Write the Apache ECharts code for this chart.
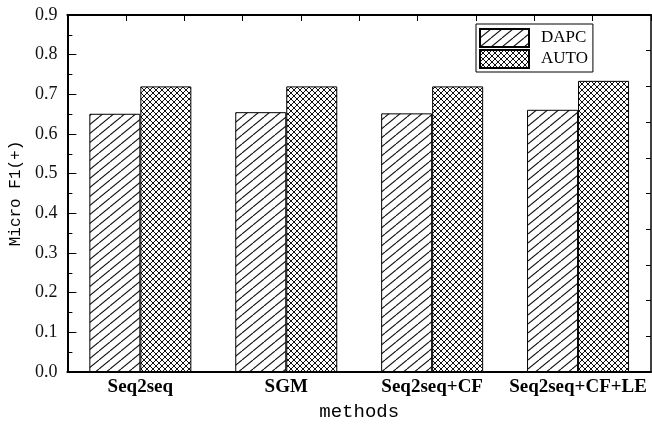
<!DOCTYPE html>
<html>
<head>
<meta charset="utf-8">
<script src="https://cdn.jsdelivr.net/npm/echarts@6/dist/echarts.min.js"></script>
<style>html,body{margin:0;padding:0;background:#fff}#c{width:652px;height:426px}</style>
</head>
<body>
<div id="c"></div>
<script>
const categories = ['Seq2seq', 'SGM', 'Seq2seq+CF', 'Seq2seq+CF+LE'];
const dapcValues = [0.651, 0.655, 0.652, 0.661];
const autoValues = [0.720, 0.720, 0.720, 0.734];
const yTicks = [0.0, 0.1, 0.2, 0.3, 0.4, 0.5, 0.6, 0.7, 0.8, 0.9];
const seriesNames = ['DAPC', 'AUTO'];

function hatchPattern(w, h) {
  const c = document.createElement('canvas');
  c.width = w; c.height = h;
  const g = c.getContext('2d');
  g.fillStyle = '#fff'; g.fillRect(0, 0, w, h);
  g.strokeStyle = '#111'; g.lineWidth = 1.1;
  for (let k = -1; k <= 1; k++) {
    g.beginPath(); g.moveTo(k * w, h); g.lineTo(k * w + w, 0); g.stroke();
  }
  return c;
}
function crossPattern(w, h) {
  const c = document.createElement('canvas');
  c.width = w; c.height = h;
  const g = c.getContext('2d');
  g.fillStyle = '#fff'; g.fillRect(0, 0, w, h);
  g.strokeStyle = '#111'; g.lineWidth = 1;
  for (let k = -1; k <= 1; k++) {
    g.beginPath(); g.moveTo(k * w, h); g.lineTo(k * w + w, 0); g.stroke();
    g.beginPath(); g.moveTo(k * w, 0); g.lineTo(k * w + w, h); g.stroke();
  }
  return c;
}

const chart = echarts.init(document.getElementById('c'), null, {renderer: 'canvas'});
const yMin = yTicks[0], yMax = yTicks[yTicks.length - 1];
chart.setOption({
  animation: false,
  backgroundColor: '#fff',
  grid: {left: 67, right: 1, top: 15, bottom: 53},
  legend: {
    orient: 'vertical', left: 476, top: 24,
    itemWidth: 49, itemHeight: 18, itemGap: 1, icon: 'rect',
    borderColor: '#000', borderWidth: 1, padding: [4, 5, 3, 3],
    backgroundColor: '#fff', selectedMode: false,
    textStyle: {fontFamily: 'Liberation Serif', fontSize: 17, color: '#000', padding: [0, 0, 0, 7]},
    data: seriesNames
  },
  xAxis: [{
    type: 'category', data: categories, position: 'bottom',
    axisLine: {show: true, onZero: false, lineStyle: {color: '#000', width: 2}},
    axisTick: {show: false},
    axisLabel: {interval: 0, hideOverlap: false, fontFamily: 'Liberation Serif', fontWeight: 'bold', fontSize: 19, color: '#000', margin: 6},
    name: 'methods', nameLocation: 'middle', nameGap: 30,
    nameTextStyle: {fontFamily: 'Liberation Mono', fontSize: 19, color: '#000'}
  }, {
    type: 'value', position: 'top', min: 0, max: 10, interval: 1,
    axisLine: {show: true, onZero: false, lineStyle: {color: '#000', width: 2}},
    axisTick: {show: true, inside: true, length: 6, lineStyle: {color: '#000', width: 1}},
    axisLabel: {show: false}, splitLine: {show: false}
  }],
  yAxis: [{
    type: 'value', min: yMin, max: yMax, interval: 0.1, position: 'left',
    axisLine: {show: true, onZero: false, lineStyle: {color: '#000', width: 2}},
    axisTick: {show: true, inside: true, length: 9, lineStyle: {color: '#000', width: 1}},
    minorTick: {show: true, splitNumber: 2, length: 5, lineStyle: {color: '#000', width: 1}},
    splitLine: {show: false},
    axisLabel: {fontFamily: 'Liberation Serif', fontSize: 18, color: '#111', margin: 10,
      formatter: v => v.toFixed(1)},
    name: 'Micro F1(+)', nameLocation: 'middle', nameGap: 42,
    nameTextStyle: {fontFamily: 'Liberation Mono', fontSize: 16, color: '#000'}
  }, {
    type: 'value', position: 'right', min: 0, max: 10, interval: 1,
    axisLine: {show: true, onZero: false, lineStyle: {color: '#000', width: 1.5}},
    axisTick: {show: true, inside: true, length: 5, lineStyle: {color: '#000', width: 1}},
    axisLabel: {show: false}, splitLine: {show: false}
  }],
  series: [{
    name: seriesNames[0], type: 'bar', xAxisIndex: 0, yAxisIndex: 0,
    data: dapcValues, barWidth: 51, barGap: '0%',
    itemStyle: {color: {image: hatchPattern(11, 9), repeat: 'repeat'}, borderColor: '#000', borderWidth: 1}
  }, {
    name: seriesNames[1], type: 'bar', xAxisIndex: 0, yAxisIndex: 0,
    data: autoValues, barWidth: 51, barGap: '0%',
    itemStyle: {color: {image: crossPattern(6, 6), repeat: 'repeat'}, borderColor: '#000', borderWidth: 1}
  }]
});
</script>
</body>
</html>
